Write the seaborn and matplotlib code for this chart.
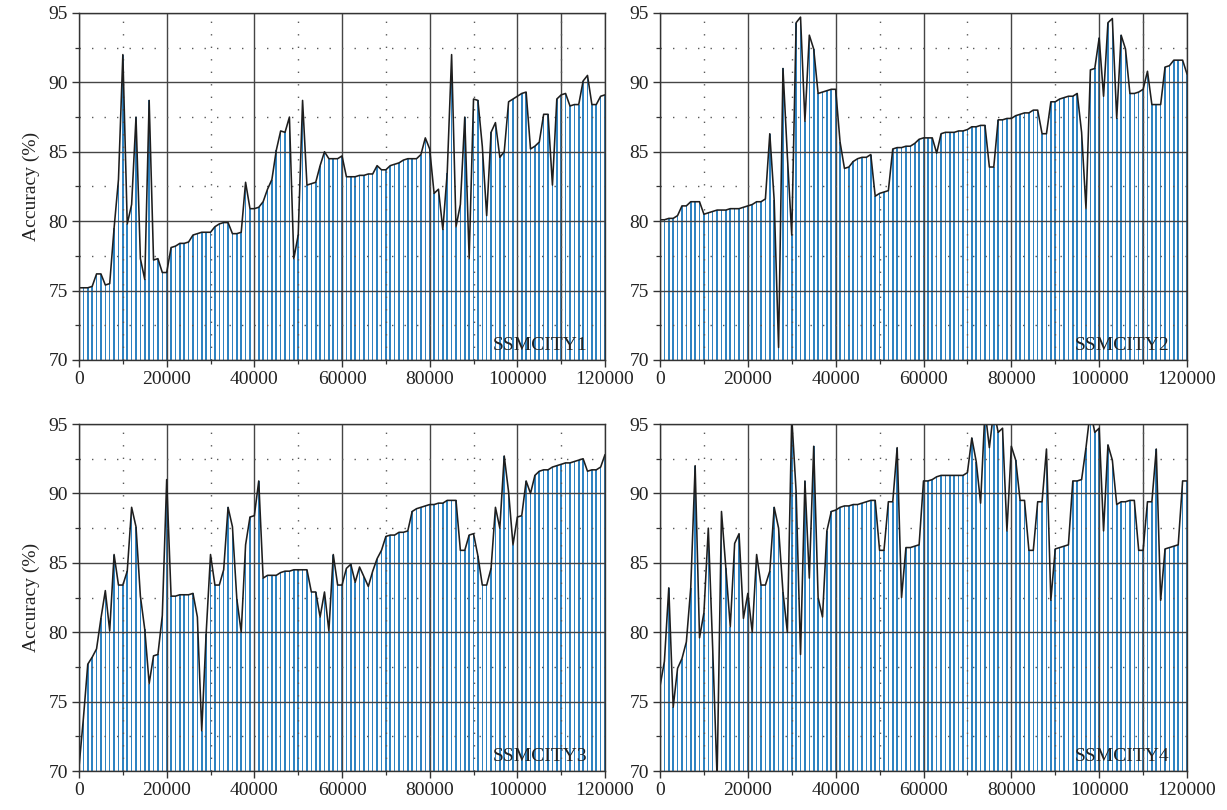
import matplotlib
matplotlib.use('Agg')
import pandas as pd
import matplotlib.pyplot as plt
import seaborn as sns
from matplotlib.ticker import MultipleLocator

# iterations (one sample every 1000)
ITERATIONS = list(range(0, 121000, 1000))

SSMCITY1 = [
    75.2, 75.2, 75.2, 75.3, 76.2, 76.2, 75.4, 75.5, 79.5, 83.0,
    92.0, 79.8, 81.2, 87.5, 77.3, 75.8, 88.7, 77.2, 77.3, 76.3,
    76.3, 78.1, 78.2, 78.4, 78.4, 78.5, 79.0, 79.1, 79.2, 79.2,
    79.2, 79.6, 79.8, 79.9, 79.9, 79.1, 79.1, 79.2, 82.8, 80.9,
    80.9, 81.0, 81.4, 82.3, 83.0, 85.1, 86.5, 86.4, 87.5, 77.3,
    79.0, 88.7, 82.6, 82.7, 82.8, 84.0, 85.0, 84.5, 84.5, 84.5,
    84.7, 83.2, 83.2, 83.2, 83.3, 83.3, 83.4, 83.4, 84.0, 83.7,
    83.7, 84.0, 84.1, 84.2, 84.4, 84.5, 84.5, 84.5, 84.8, 86.0,
    85.2, 82.0, 82.3, 79.4, 83.5, 92.0, 79.6, 81.2, 87.5, 77.3,
    88.8, 88.7, 85.4, 80.4, 86.4, 87.1, 84.6, 85.0, 88.6, 88.8,
    89.0, 89.2, 89.3, 85.2, 85.4, 85.7, 87.7, 87.7, 82.6, 88.8,
    89.1, 89.2, 88.3, 88.4, 88.4, 90.1, 90.5, 88.4, 88.4, 89.0, 89.1,
]

SSMCITY2 = [
    80.1, 80.1, 80.2, 80.2, 80.4, 81.1, 81.1, 81.4, 81.4, 81.4,
    80.5, 80.6, 80.7, 80.8, 80.8, 80.8, 80.9, 80.9, 80.9, 81.0,
    81.1, 81.2, 81.4, 81.4, 81.6, 86.3, 81.5, 70.9, 91.0, 84.7,
    79.0, 94.3, 94.7, 87.2, 93.4, 92.4, 89.2, 89.3, 89.4, 89.5,
    89.5, 85.7, 83.8, 83.9, 84.3, 84.5, 84.6, 84.6, 84.8, 81.8,
    82.0, 82.1, 82.2, 85.2, 85.3, 85.3, 85.4, 85.4, 85.6, 85.9,
    86.0, 86.0, 86.0, 84.9, 86.3, 86.4, 86.4, 86.4, 86.5, 86.5,
    86.6, 86.8, 86.8, 86.9, 86.9, 83.9, 83.9, 87.3, 87.3, 87.4,
    87.4, 87.6, 87.7, 87.8, 87.8, 88.0, 88.0, 86.3, 86.3, 88.6,
    88.6, 88.8, 88.9, 89.0, 89.0, 89.2, 86.4, 80.9, 90.9, 91.0,
    93.2, 89.0, 94.3, 94.6, 87.4, 93.4, 92.4, 89.2, 89.2, 89.3,
    89.5, 90.8, 88.4, 88.4, 88.4, 91.1, 91.2, 91.6, 91.6, 91.6, 90.6,
]

SSMCITY3 = [
    70.3, 73.8, 77.7, 78.2, 78.8, 81.0, 83.0, 80.1, 85.6, 83.4,
    83.4, 84.4, 89.0, 87.6, 82.6, 80.2, 76.3, 78.3, 78.4, 81.2,
    91.0, 82.6, 82.6, 82.7, 82.7, 82.7, 82.8, 81.1, 72.9, 79.9,
    85.6, 83.4, 83.4, 84.5, 89.0, 87.6, 82.4, 80.0, 86.3, 88.3,
    88.4, 90.9, 83.9, 84.1, 84.1, 84.1, 84.3, 84.4, 84.4, 84.5,
    84.5, 84.5, 84.5, 82.9, 82.9, 81.1, 82.9, 80.1, 85.6, 83.4,
    83.4, 84.6, 84.9, 83.6, 84.7, 84.0, 83.3, 84.4, 85.3, 85.9,
    86.9, 87.0, 87.0, 87.2, 87.2, 87.3, 88.7, 88.9, 89.0, 89.1,
    89.2, 89.2, 89.3, 89.3, 89.5, 89.5, 89.5, 85.9, 85.9, 87.0,
    87.1, 85.5, 83.4, 83.4, 84.6, 89.0, 87.5, 92.7, 90.1, 86.3,
    88.3, 88.4, 90.9, 90.0, 91.3, 91.6, 91.7, 91.7, 91.9, 92.0,
    92.1, 92.2, 92.2, 92.3, 92.4, 92.5, 91.6, 91.7, 91.7, 91.9, 92.8,
]

SSMCITY4 = [
    76.1, 77.9, 83.2, 74.6, 77.4, 78.1, 79.3, 83.2, 92.0, 79.6,
    81.4, 87.5, 78.8, 69.5, 88.7, 84.6, 80.4, 86.4, 87.1, 81.0,
    82.8, 80.0, 85.6, 83.4, 83.4, 84.4, 89.0, 87.5, 82.9, 80.0,
    95.5, 90.1, 78.4, 90.9, 83.9, 93.4, 82.5, 81.1, 87.3, 88.7,
    88.8, 89.0, 89.1, 89.1, 89.2, 89.2, 89.3, 89.4, 89.5, 89.5,
    85.9, 85.9, 89.4, 89.4, 93.3, 82.5, 86.1, 86.1, 86.2, 86.3,
    90.9, 90.9, 91.0, 91.2, 91.3, 91.3, 91.3, 91.3, 91.3, 91.3,
    91.5, 94.0, 92.3, 89.3, 96.0, 93.3, 96.0, 94.4, 94.7, 87.3,
    93.4, 92.4, 89.5, 89.5, 85.9, 85.9, 89.4, 89.4, 93.2, 82.3,
    86.0, 86.1, 86.2, 86.3, 90.9, 90.9, 91.0, 93.3, 96.0, 94.4,
    94.7, 87.3, 93.5, 92.4, 89.2, 89.4, 89.4, 89.5, 89.5, 85.9,
    85.9, 89.4, 89.4, 93.2, 82.3, 86.0, 86.1, 86.2, 86.3, 90.9, 90.9,
]

PANELS = ['SSMCITY1', 'SSMCITY2', 'SSMCITY3', 'SSMCITY4']
SERIES = [SSMCITY1, SSMCITY2, SSMCITY3, SSMCITY4]
# panels that show an extra solid line at 110000
EXTRA_LINE = {'SSMCITY1', 'SSMCITY2', 'SSMCITY4'}

BAR_COLOR = '#2f83c2'
GRID_COLOR = '#454545'
DOT_COLOR = '#5a5a5a'

sns.set_style('white')
plt.rcParams['font.family'] = ['Liberation Serif', 'DejaVu Serif']
plt.rcParams['font.size'] = 14

fig = plt.figure(figsize=(12.27, 8.10), dpi=100)
boxes = [
    (0.0644, 0.5556, 0.4287, 0.4284),
    (0.5379, 0.5556, 0.4295, 0.4284),
    (0.0644, 0.0481, 0.4287, 0.4284),
    (0.5379, 0.0481, 0.4295, 0.4284),
]

for k, (name, vals) in enumerate(zip(PANELS, SERIES)):
    ax = fig.add_axes(boxes[k])
    df = pd.DataFrame({'iteration': ITERATIONS, 'accuracy': vals})

    sns.barplot(data=df, x='iteration', y='accuracy', native_scale=True,
                width=0.36, color=BAR_COLOR, saturation=1.0, linewidth=0,
                errorbar=None, ax=ax, zorder=1)
    sns.lineplot(data=df, x='iteration', y='accuracy', color='#1e1e1e',
                 linewidth=1.15, ax=ax, zorder=4)

    ax.set_xlim(0, 120000)
    ax.set_ylim(70, 95)
    ax.xaxis.set_major_locator(MultipleLocator(20000))
    ax.xaxis.set_minor_locator(MultipleLocator(10000))
    ax.yaxis.set_major_locator(MultipleLocator(5))
    ax.yaxis.set_minor_locator(MultipleLocator(2.5))

    ax.set_axisbelow(False)
    ax.grid(which='major', color=GRID_COLOR, linewidth=1.0, linestyle='-')
    ax.grid(which='minor', color=DOT_COLOR, linewidth=1.0,
            linestyle=(0, (1, 8)))
    if name in EXTRA_LINE:
        ax.axvline(110000, color=GRID_COLOR, linewidth=1.0, zorder=2.5)

    ax.tick_params(which='both', bottom=True, left=True, top=False,
                   right=False, direction='out')
    ax.tick_params(which='major', length=5, width=1.0, color='#333333',
                   labelsize=14, labelcolor='#222222', pad=3)
    ax.tick_params(which='minor', length=3, width=0.9, color='#333333')
    for s in ax.spines.values():
        s.set_color('#333333')
        s.set_linewidth(1.0)
        s.set_zorder(5)

    ax.set_xlabel('')
    if k % 2 == 0:
        ax.set_ylabel('Accuracy (%)', fontsize=14, color='#222222', labelpad=6)
    else:
        ax.set_ylabel('')

    ax.text(0.966, 0.018, name, transform=ax.transAxes, ha='right',
            va='bottom', fontsize=14, color='#222222', zorder=6)

fig.savefig('out.png', dpi=100, facecolor='white')
